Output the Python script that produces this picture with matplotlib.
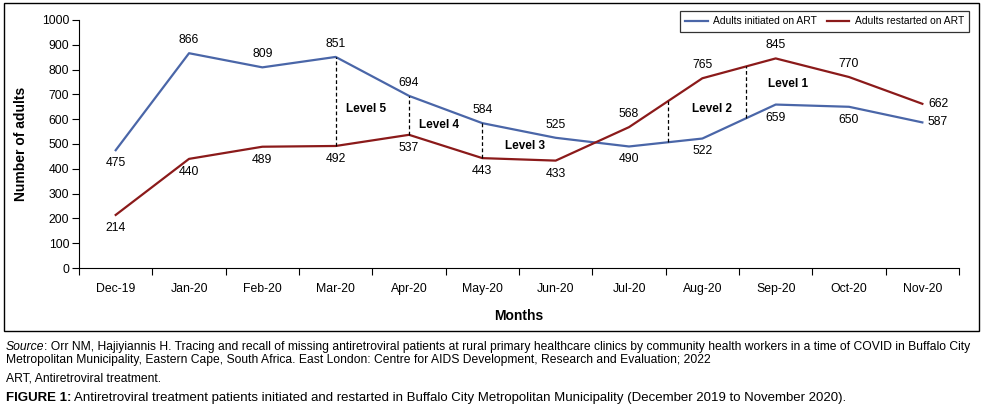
import matplotlib
matplotlib.use("Agg")
import matplotlib.pyplot as plt
from matplotlib.patches import Rectangle

plt.rcParams['font.family'] = ['Liberation Sans', 'DejaVu Sans']

# data
months = ['Dec-19', 'Jan-20', 'Feb-20', 'Mar-20', 'Apr-20', 'May-20',
          'Jun-20', 'Jul-20', 'Aug-20', 'Sep-20', 'Oct-20', 'Nov-20']
initiated = [475, 866, 809, 851, 694, 584, 525, 490, 522, 659, 650, 587]
restarted = [214, 440, 489, 492, 537, 443, 433, 568, 765, 845, 770, 662]

# label placement: 'a' above, 'b' below, 'r' right
init_pos = ['b', 'a', 'a', 'a', 'a', 'a', 'a', 'b', 'b', 'b', 'b', 'r']
rest_pos = ['b', 'b', 'b', 'b', 'b', 'b', 'b', 'a', 'a', 'a', 'a', 'r']

# lockdown levels: (name, x of dashed line, label x, label y)
levels = [('Level 5', 3.0, 3.41, 641),
          ('Level 4', 4.0, 4.41, 577),
          ('Level 3', 5.0, 5.58, 492),
          ('Level 2', 7.53, 8.13, 641),
          ('Level 1', 8.6, 9.17, 742)]

blue = '#4a66a8'
red = '#8b1a1a'
fs = 8.8

fig = plt.figure(figsize=(9.83, 4.12), dpi=100)
ax = fig.add_axes([0.0804, 0.3495, 0.8952, 0.602])

x = list(range(len(months)))
ax.plot(x, initiated, color=blue, lw=1.6, label='Adults initiated on ART')
ax.plot(x, restarted, color=red, lw=1.6, label='Adults restarted on ART')


def put_labels(vals, pos):
    for i, (v, p) in enumerate(zip(vals, pos)):
        if p == 'a':
            ax.annotate(str(v), (i, v), xytext=(0, 5), textcoords='offset points',
                        ha='center', va='bottom', fontsize=fs)
        elif p == 'b':
            ax.annotate(str(v), (i, v), xytext=(0, -5), textcoords='offset points',
                        ha='center', va='top', fontsize=fs)
        else:
            ax.annotate(str(v), (i, v), xytext=(4, 0), textcoords='offset points',
                        ha='left', va='center', fontsize=fs)


put_labels(initiated, init_pos)
put_labels(restarted, rest_pos)


def interp(vals, xv):
    i = int(xv)
    if i >= len(vals) - 1:
        return vals[-1]
    f = xv - i
    return vals[i] + f * (vals[i + 1] - vals[i])


for name, lx, tx, ty in levels:
    y1 = interp(initiated, lx)
    y2 = interp(restarted, lx)
    ax.plot([lx, lx], [min(y1, y2), max(y1, y2)], color='black', lw=0.9,
            ls=(0, (3, 2)))
    ax.text(tx, ty, name, ha='center', va='center', fontsize=fs - 0.3,
            fontweight='bold')

ax.set_xlim(-0.5, 11.5)
ax.set_ylim(0, 1000)
ax.set_yticks(range(0, 1001, 100))
ax.set_xticks(x)
ax.set_xticklabels(months)
ax.set_xticks([i - 0.5 for i in range(13)], minor=True)
ax.tick_params(axis='x', which='major', length=0, pad=11, labelsize=fs)
ax.tick_params(axis='x', which='minor', length=5, width=0.8, direction='out')
ax.tick_params(axis='y', length=5, width=0.8, labelsize=fs, pad=2)
for s in ['top', 'right']:
    ax.spines[s].set_visible(False)
ax.spines['left'].set_linewidth(0.8)
ax.spines['bottom'].set_linewidth(0.8)

ax.set_xlabel('Months', fontsize=10, fontweight='bold', labelpad=10)
ax.set_ylabel('Number of adults', fontsize=10, fontweight='bold', labelpad=10)

leg = fig.legend(loc='upper right', bbox_to_anchor=(0.991, 0.985), ncol=2,
                 frameon=True, fancybox=False, edgecolor='black', fontsize=7.4,
                 handlelength=2.2, columnspacing=1.0, borderpad=0.5,
                 handletextpad=0.5)
leg.get_frame().set_linewidth(0.9)

# outer frame round the chart
fig.patches.append(Rectangle((0.004, 0.1966), 0.9919, 0.796, transform=fig.transFigure,
                             fill=False, edgecolor='black', lw=1.0))

# notes and caption beneath the frame
fig.canvas.draw()
r = fig.canvas.get_renderer()
W = fig.bbox.width
sfs = 8.75
t = fig.text(0.006, 0.150, 'Source', fontsize=sfs, style='italic', va='baseline')
w = t.get_window_extent(r).width / W
fig.text(0.006 + w, 0.150,
         ': Orr NM, Hajiyiannis H. Tracing and recall of missing antiretroviral patients at rural primary '
         'healthcare clinics by community health workers in a time of COVID in Buffalo City',
         fontsize=sfs, va='baseline')
fig.text(0.006, 0.119,
         'Metropolitan Municipality, Eastern Cape, South Africa. East London: Centre for AIDS Development, '
         'Research and Evaluation; 2022', fontsize=sfs, va='baseline')
fig.text(0.006, 0.074, 'ART, Antiretroviral treatment.', fontsize=sfs, va='baseline')
cfs = 9.5
t = fig.text(0.006, 0.026, 'FIGURE 1:', fontsize=cfs, fontweight='bold', va='baseline')
w = t.get_window_extent(r).width / W
fig.text(0.006 + w + 0.003, 0.026,
         'Antiretroviral treatment patients initiated and restarted in Buffalo City Metropolitan '
         'Municipality (December 2019 to November 2020).', fontsize=cfs, va='baseline')

fig.savefig('out.png', dpi=100)
